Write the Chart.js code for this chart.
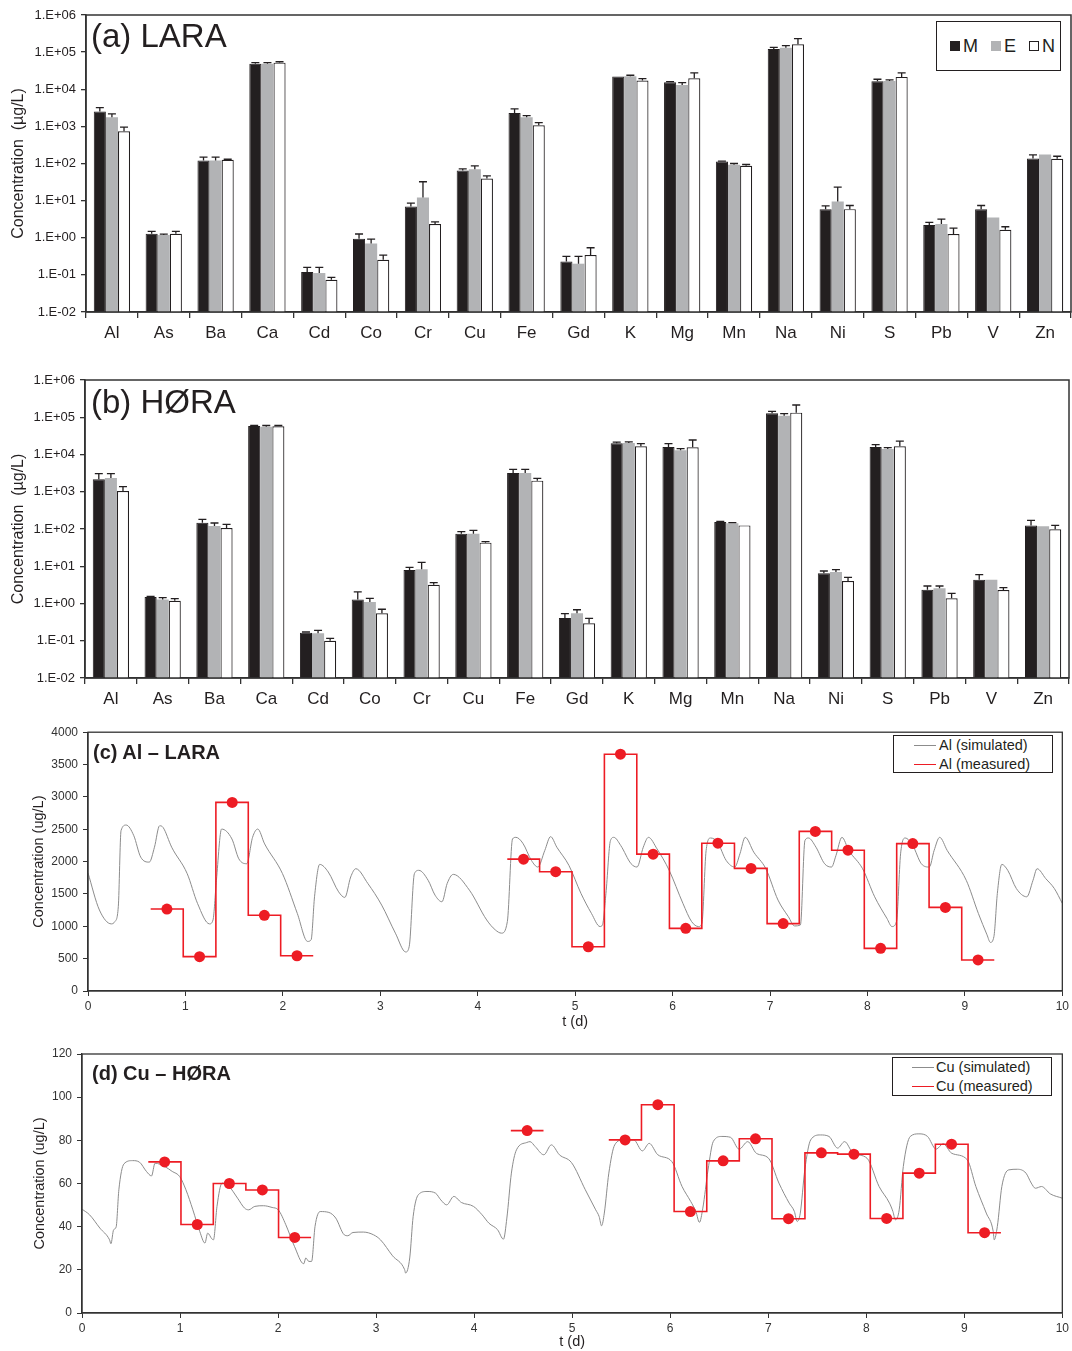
<!DOCTYPE html>
<html>
<head>
<meta charset="utf-8">
<script src="https://cdn.jsdelivr.net/npm/chart.js@4.4.1/dist/chart.umd.min.js"></script>
<style>
  body { margin: 0; background: #fff; width: 1072px; height: 1351px; position: relative; overflow: hidden;
         font-family: 'Liberation Sans', Arial, sans-serif; color: #231f20; }
  canvas { position: absolute; left: 0; }
  .t { position: absolute; white-space: nowrap; line-height: 1; }
  .box { position: absolute; border: 1.3px solid #231f20; box-sizing: border-box; background: #fff; }
  .sq { position: absolute; width: 10px; height: 10px; box-sizing: border-box; }
  .ln { position: absolute; height: 0; }
</style>
</head>
<body>
<canvas id="chartA" width="1072" height="350" style="top:0"></canvas>
<canvas id="chartB" width="1072" height="350" style="top:365px"></canvas>
<canvas id="chartC" width="1072" height="313" style="top:720px"></canvas>
<canvas id="chartD" width="1072" height="311" style="top:1040px"></canvas>

<div class="t" style="left:91px;top:19px;font-size:33px">(a) LARA</div>
<div class="t" style="left:91px;top:385px;font-size:33px">(b) HØRA</div>
<div class="t" style="left:93px;top:742px;font-size:20px;font-weight:bold">(c) Al – LARA</div>
<div class="t" style="left:92px;top:1063px;font-size:20px;font-weight:bold">(d) Cu – HØRA</div>

<div class="box" style="left:936px;top:21px;width:125px;height:50px"></div>
<div class="sq" style="left:950px;top:41px;background:#231f20"></div>
<div class="t" style="left:963px;top:37px;font-size:18px">M</div>
<div class="sq" style="left:991px;top:41px;background:#b2b3b5"></div>
<div class="t" style="left:1004px;top:37px;font-size:18px">E</div>
<div class="sq" style="left:1029px;top:41px;background:#fff;border:1.2px solid #231f20"></div>
<div class="t" style="left:1042px;top:37px;font-size:18px">N</div>

<div class="box" style="left:893px;top:735px;width:160px;height:38px"></div>
<div class="ln" style="left:914px;top:745px;width:22px;border-top:1px solid #8c8c8c"></div>
<div class="t" style="left:939px;top:738px;font-size:14.5px">Al (simulated)</div>
<div class="ln" style="left:914px;top:764px;width:22px;border-top:1.6px solid #ed1c24"></div>
<div class="t" style="left:939px;top:757px;font-size:14.5px">Al (measured)</div>

<div class="box" style="left:892px;top:1057px;width:160px;height:39px"></div>
<div class="ln" style="left:912px;top:1067px;width:22px;border-top:1px solid #8c8c8c"></div>
<div class="t" style="left:936px;top:1060px;font-size:14.5px">Cu (simulated)</div>
<div class="ln" style="left:912px;top:1086px;width:22px;border-top:1.6px solid #ed1c24"></div>
<div class="t" style="left:936px;top:1079px;font-size:14.5px">Cu (measured)</div>

<script>
const elements = ['Al', 'As', 'Ba', 'Ca', 'Cd', 'Co', 'Cr', 'Cu', 'Fe', 'Gd', 'K', 'Mg', 'Mn', 'Na', 'Ni', 'S', 'Pb', 'V', 'Zn'];
const logTickValues = [0.01, 0.1, 1, 10, 100, 1e3, 1e4, 1e5, 1e6];
const logTickLabels = ['1.E-02', '1.E-01', '1.E+00', '1.E+01', '1.E+02', '1.E+03', '1.E+04', '1.E+05', '1.E+06'];

// (a) LARA - mean values and upper error bar ends
const laraM = [2500, 1.28, 120, 49000, 0.119, 0.94, 6.97, 64.8, 2307, 0.231, 21900, 15400, 113, 121600, 5.9, 16400, 2.19, 5.9, 136];
const laraE = [1766, 1.18, 120, 49000, 0.112, 0.70, 12.2, 70.5, 1766, 0.20, 22400, 13100, 92, 132000, 9.5, 16750, 2.33, 3.52, 175];
const laraN = [741, 1.28, 126, 52000, 0.074, 0.256, 2.33, 39.5, 1073, 0.342, 17100, 19800, 86.5, 162500, 5.9, 21500, 1.26, 1.64, 134];
const laraMErr = [3200, 1.48, 148, 52000, 0.159, 1.26, 8.57, 71.5, 2950, 0.315, null, 16000, 116, 135000, 7.26, 18600, 2.59, 7.4, 171];
const laraEErr = [2170, 1.25, 148, 52000, 0.159, 0.92, 32.2, 86.5, 1950, 0.315, 23800, 15100, 100, 150000, 23.1, 17800, 3.18, null, null];
const laraNErr = [950, 1.48, 130, 55000, 0.086, 0.342, 2.69, 46.6, 1268, 0.538, 19400, 27500, 94, 231000, 7.4, 27500, 1.82, 1.98, 157];

// (b) HØRA
const horaM = [2150, 1.49, 148, 58200, 0.165, 1.29, 7.93, 75, 3186, 0.408, 19950, 15900, 154, 127400, 6.45, 15900, 2.35, 4.36, 125];
const horaE = [2340, 1.29, 120, 55800, 0.159, 1.10, 8.26, 75, 3186, 0.545, 20400, 12950, 142, 110400, 7.0, 14060, 2.55, 4.36, 118];
const horaN = [1048, 1.19, 106, 57000, 0.10, 0.545, 3.2, 43, 1987, 0.294, 16560, 15560, 125, 132800, 4.02, 16560, 1.38, 2.3, 98];
const horaMErr = [3057, 1.55, 182, 60000, 0.172, 2.04, 9.35, 84.8, 4000, 0.533, 21400, 19500, 161, 144000, 7.45, 18360, 2.95, 5.94, 171];
const horaEErr = [3057, 1.44, 145, 60000, 0.19, 1.38, 12.7, 92, 4000, 0.68, 21700, 14350, 148, 124800, 8.1, 15280, 2.95, null, null];
const horaNErr = [1370, 1.35, 133, 60000, 0.116, 0.70, 3.62, 45.7, 2290, 0.40, 19500, 24500, null, 213000, 5.03, 23000, 1.87, 2.66, 125];

// (c) Al - LARA, time in days
const alSimT = [0.00, 0.117, 0.24, 0.276, 0.311, 0.339, 0.392, 0.47, 0.541, 0.629,
  0.682, 0.735, 0.77, 0.859, 1.018, 1.124, 1.247, 1.283, 1.318, 1.371,
  1.477, 1.548, 1.629, 1.689, 1.742, 1.813, 1.996, 2.148, 2.254, 2.29,
  2.325, 2.378, 2.466, 2.572, 2.636, 2.696, 2.749, 2.873, 3.014, 3.155,
  3.261, 3.297, 3.35, 3.396, 3.491, 3.562, 3.633, 3.686, 3.749, 3.915,
  4.092, 4.18, 4.244, 4.304, 4.357, 4.392, 4.463, 4.551, 4.617, 4.688,
  4.748, 4.812, 4.936, 5.06, 5.167, 5.255, 5.28, 5.316, 5.362, 5.397,
  5.468, 5.574, 5.635, 5.699, 5.752, 5.84, 5.965, 6.106, 6.195, 6.266,
  6.301, 6.344, 6.39, 6.461, 6.55, 6.638, 6.691, 6.745, 6.833, 6.957,
  7.082, 7.188, 7.252, 7.312, 7.358, 7.394, 7.472, 7.56, 7.631, 7.677,
  7.738, 7.809, 7.95, 8.074, 8.199, 8.252, 8.298, 8.34, 8.387, 8.465,
  8.553, 8.635, 8.684, 8.741, 8.819, 9.014, 9.138, 9.227, 9.262, 9.298,
  9.333, 9.379, 9.44, 9.528, 9.635, 9.699, 9.741, 9.83, 9.918, 10.0];
const alSimV = [1824, 1252, 1037, 1073, 1303, 2478, 2565, 2401, 2069, 1992,
  2222, 2554, 2529, 2222, 1814, 1354, 1037, 1098, 1711, 2503,
  2350, 2043, 1967, 2375, 2503, 2273, 1814, 1200, 766, 792,
  1456, 1957, 1839, 1533, 1446, 1762, 1890, 1660, 1328, 894,
  603, 690, 1814, 1865, 1711, 1481, 1379, 1660, 1803, 1558,
  1098, 945, 894, 1073, 2350, 2375, 2284, 2018, 1916, 2171,
  2386, 2222, 1941, 1507, 1200, 996, 1022, 1507, 2324, 2375,
  2248, 1967, 1916, 2222, 2375, 2197, 1865, 1354, 1073, 996,
  1047, 2171, 2365, 2299, 2018, 1916, 2120, 2375, 2146, 1890,
  1405, 1149, 1006, 1022, 2324, 2365, 2222, 1967, 1916, 2095,
  2375, 2171, 1890, 1456, 1124, 996, 1073, 2120, 2365, 2248,
  1967, 1916, 2171, 2375, 2171, 1711, 1200, 868, 751, 843,
  1507, 1957, 1865, 1584, 1456, 1711, 1890, 1737, 1584, 1354];
const alMeasT = [0.81, 1.145, 1.48, 1.81, 2.145, 4.47, 4.80, 5.135, 5.465, 5.80, 6.135, 6.465, 6.805, 7.135, 7.465, 7.80, 8.135, 8.465, 8.80, 9.135];
const alMeasV = [1267, 531, 2915, 1170, 545, 2038, 1844, 684, 3660, 2115, 968, 2284, 1895, 1042, 2467, 2176, 659, 2278, 1292, 480];

// (d) Cu - HØRA
const cuSimT = [0, 0.077, 0.183, 0.281, 0.295, 0.323, 0.348, 0.376, 0.428, 0.516,
  0.586, 0.657, 0.709, 0.745, 0.843, 0.92, 0.997, 1.06, 1.131, 1.201,
  1.254, 1.282, 1.324, 1.341, 1.377, 1.429, 1.5, 1.587, 1.658, 1.7,
  1.763, 1.851, 1.939, 2.002, 2.079, 2.167, 2.262, 2.283, 2.314, 2.342,
  2.377, 2.43, 2.518, 2.588, 2.676, 2.711, 2.764, 2.869, 2.975, 3.045,
  3.168, 3.291, 3.301, 3.343, 3.378, 3.431, 3.519, 3.607, 3.66, 3.72,
  3.793, 3.87, 3.993, 4.081, 4.151, 4.239, 4.299, 4.334, 4.38, 4.432,
  4.537, 4.57, 4.623, 4.711, 4.788, 4.87, 4.993, 5.134, 5.24, 5.275,
  5.3, 5.328, 5.374, 5.434, 5.522, 5.628, 5.716, 5.786, 5.874, 6.016,
  6.121, 6.209, 6.262, 6.298, 6.333, 6.386, 6.439, 6.527, 6.615, 6.703,
  6.791, 6.879, 7.003, 7.109, 7.214, 7.267, 7.295, 7.327, 7.373, 7.433,
  7.532, 7.62, 7.708, 7.779, 7.867, 8.008, 8.131, 8.237, 8.272, 8.297,
  8.336, 8.378, 8.449, 8.537, 8.625, 8.713, 8.784, 8.872, 9.03, 9.118,
  9.224, 9.295, 9.305, 9.337, 9.383, 9.453, 9.541, 9.629, 9.683, 9.725,
  9.788, 9.877, 10.0];
const cuSimV = [48.1, 45.5, 39.3, 33.9, 32.1, 38.6, 39.8, 57.1, 69.1, 70.6,
  69.9, 65.6, 63.5, 69.4, 67.9, 65.6, 63.2, 57.1, 47.8, 37.8,
  32.4, 37, 34.4, 33.9, 49.4, 60.2, 58.6, 53.2, 48.6, 47.8,
  49.4, 49.7, 48.9, 47.8, 40.9, 30.9, 22.8, 25.5, 23.9, 23.9,
  40.1, 47, 46.6, 44, 36.2, 35.8, 37.3, 37.5, 36.2, 33.9,
  26.5, 20.1, 18.5, 25.5, 44.7, 54.8, 56.3, 55.5, 52.4, 50.1,
  54, 51.2, 49.4, 45.5, 41.6, 38.6, 34.2, 44, 64.8, 75.6,
  79, 79.4, 77.1, 73.3, 77.9, 73.3, 69.7, 57.1, 47.8, 44.7,
  40.4, 46.3, 64.8, 77.9, 80.2, 80.2, 75.1, 78.6, 73.3, 70.2,
  58.6, 51.7, 47, 42, 48.6, 66.3, 79.4, 81.8, 81.4, 75.9,
  79.4, 74, 71.7, 60.2, 50.9, 47, 42.4, 46.3, 66.3, 80.2,
  82.5, 81.8, 76.4, 79.4, 74, 71.7, 58.6, 50.9, 47, 43.2,
  47.8, 67.9, 81.8, 83, 81.8, 75.9, 78.4, 74, 71, 58.6,
  46.3, 37.8, 33.9, 40.1, 58.6, 66.3, 66.6, 64.8, 60.2, 57.8,
  58.6, 55.2, 53.2];
const cuMeasT = [0.843, 1.176, 1.503, 1.84, 2.17, 4.541, 5.54, 5.874, 6.206, 6.54, 6.87, 7.207, 7.542, 7.874, 8.208, 8.54, 8.87, 9.207];
const cuMeasV = [70, 41, 60, 57, 35, 84.5, 80.2, 96.5, 47, 70.5, 80.7, 43.7, 74.2, 73.6, 43.8, 64.8, 78.2, 37.2];

Chart.defaults.font.family = "'Liberation Sans', Arial, sans-serif";
Chart.defaults.color = '#231f20';

const ink = '#231f20';

function frameBox(color, width) {
  return {
    id: 'frameBox',
    afterDraw(chart) {
      const { ctx, chartArea: a } = chart;
      ctx.save();
      ctx.strokeStyle = color;
      ctx.lineWidth = width;
      ctx.strokeRect(a.left, a.top, a.right - a.left, a.bottom - a.top);
      ctx.restore();
    }
  };
}

// upper error bars: vertical line from bar top to value + cap
const errorBars = {
  id: 'errorBars',
  afterDatasetsDraw(chart) {
    const { ctx } = chart;
    const yScale = chart.scales.y;
    chart.data.datasets.forEach((ds, i) => {
      const meta = chart.getDatasetMeta(i);
      ctx.save();
      ctx.strokeStyle = ink;
      ctx.lineWidth = 1.3;
      meta.data.forEach((bar, j) => {
        const e = ds.errTop[j];
        if (e == null) return;
        const yTop = yScale.getPixelForValue(e);
        ctx.beginPath();
        ctx.moveTo(bar.x, bar.y);
        ctx.lineTo(bar.x, yTop);
        ctx.moveTo(bar.x - 4, yTop);
        ctx.lineTo(bar.x + 4, yTop);
        ctx.stroke();
      });
      ctx.restore();
    });
  }
};

function barChart(id, m, e, n, mErr, eErr, nErr, box) {
  new Chart(document.getElementById(id), {
    type: 'bar',
    data: {
      labels: elements,
      datasets: [
        { label: 'M', data: m, errTop: mErr, backgroundColor: ink, borderColor: ink, borderWidth: 1 },
        { label: 'E', data: e, errTop: eErr, backgroundColor: '#b2b3b5', borderWidth: 0 },
        { label: 'N', data: n, errTop: nErr, backgroundColor: '#ffffff', borderColor: ink, borderWidth: 1.2 }
      ]
    },
    options: {
      responsive: false,
      animation: false,
      layout: { autoPadding: false, padding: { top: box.top, right: box.right, left: 0, bottom: 0 } },
      datasets: { bar: { categoryPercentage: 0.7, barPercentage: 1.0 } },
      plugins: { legend: { display: false }, tooltip: { enabled: false } },
      scales: {
        x: {
          grid: { offset: true, drawOnChartArea: false, tickLength: 6, color: '#333', lineWidth: 1.3 },
          border: { color: '#333', width: 1.5 },
          ticks: { color: ink, font: { size: 17 }, padding: 5, maxRotation: 0, autoSkip: false },
          afterFit(s) { s.height = box.xh; }
        },
        y: {
          type: 'logarithmic', min: 0.01, max: 1e6,
          grid: { drawOnChartArea: false, tickLength: 5, color: '#333', lineWidth: 1.3 },
          border: { color: '#333', width: 1.5 },
          ticks: {
            color: ink, font: { size: 13 }, padding: 5, autoSkip: false,
            callback: v => logTickLabels[logTickValues.indexOf(v)] ?? ''
          },
          afterBuildTicks(s) { s.ticks = logTickValues.map(v => ({ value: v })); },
          title: { display: true, text: 'Concentration  (µg/L)', color: ink, font: { size: 16 }, padding: { top: 9, bottom: 0 } },
          afterFit(s) { s.width = box.left; }
        }
      }
    },
    plugins: [errorBars, frameBox('#333', 1.5)]
  });
}

// step outline for 8-hour composite samples
function stepPoints(times, vals) {
  const half = 1 / 6;
  const pts = [];
  times.forEach((t, i) => {
    const joinPrev = i > 0 && t - times[i - 1] < 0.5;
    const joinNext = i < times.length - 1 && times[i + 1] - t < 0.5;
    if (i > 0 && !joinPrev) pts.push({ x: (t + times[i - 1]) / 2, y: null });
    const x0 = joinPrev ? (t + times[i - 1]) / 2 : t - half;
    const x1 = joinNext ? (t + times[i + 1]) / 2 : t + half;
    pts.push({ x: x0, y: vals[i] }, { x: x1, y: vals[i] });
  });
  return pts;
}

function seriesChart(id, simT, simV, measT, measV, yMax, yStep, box) {
  new Chart(document.getElementById(id), {
    type: 'line',
    data: {
      datasets: [
        { data: measT.map((t, i) => ({ x: t, y: measV[i] })), showLine: false, order: 0,
          pointRadius: 5.5, pointBackgroundColor: '#ed1c24', pointBorderColor: '#ed1c24', pointBorderWidth: 0 },
        { data: stepPoints(measT, measV), order: 1, borderColor: '#ed1c24', borderWidth: 1.6,
          pointRadius: 0, spanGaps: false },
        { data: simT.map((t, i) => ({ x: t, y: simV[i] })), order: 2, borderColor: '#8c8c8c', borderWidth: 1,
          pointRadius: 0, cubicInterpolationMode: 'monotone' }
      ]
    },
    options: {
      responsive: false,
      animation: false,
      layout: { autoPadding: false, padding: { top: box.top, right: box.right, left: 0, bottom: 0 } },
      plugins: { legend: { display: false }, tooltip: { enabled: false } },
      scales: {
        x: {
          type: 'linear', min: 0, max: 10,
          grid: { drawOnChartArea: false, tickLength: 5, color: '#333' },
          border: { color: '#333', width: 1.3 },
          ticks: { stepSize: 1, color: '#333', font: { size: 12 }, padding: 3, maxRotation: 0, callback: v => String(v) },
          title: { display: true, text: 't (d)', color: ink, font: { size: 14.5 }, padding: { top: 0, bottom: box.tpad } },
          afterFit(s) { s.height = box.xh; }
        },
        y: {
          min: 0, max: yMax,
          grid: { drawOnChartArea: false, tickLength: 5, color: '#333' },
          border: { color: '#333', width: 1.3 },
          ticks: { stepSize: yStep, color: '#333', font: { size: 12 }, padding: 5, callback: v => String(v) },
          title: { display: true, text: 'Concentration (ug/L)', color: ink, font: { size: 14.5 }, padding: { top: box.ypad, bottom: 0 } },
          afterFit(s) { s.width = box.left; }
        }
      }
    },
    plugins: [frameBox('#333', 1.3)]
  });
}

barChart('chartA', laraM, laraE, laraN, laraMErr, laraEErr, laraNErr, { top: 15, right: 1, left: 86, xh: 38 });
barChart('chartB', horaM, horaE, horaN, horaMErr, horaEErr, horaNErr, { top: 15, right: 3, left: 85, xh: 37 });
seriesChart('chartC', alSimT, alSimV, alMeasT, alMeasV, 4000, 500, { top: 11, right: 9, left: 88, xh: 42, tpad: 2, ypad: 30 });
seriesChart('chartD', cuSimT, cuSimV, cuMeasT, cuMeasV, 120, 20, { top: 14, right: 9, left: 82, xh: 38, tpad: 0, ypad: 31 });
</script>
</body>
</html>
